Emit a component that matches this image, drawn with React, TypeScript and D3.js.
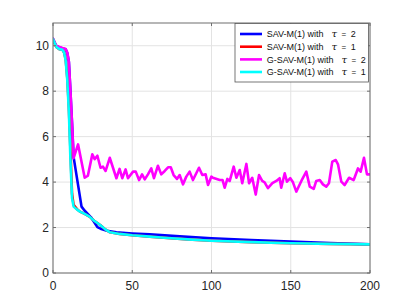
import React from "react";
import * as d3 from "d3";

type P = [number, number];

const xTicks = [0, 50, 100, 150, 200];
const yTicks = [0, 2, 4, 6, 8, 10];

const seriesNames = ["SAV-M(1) with", "SAV-M(1) with", "G-SAV-M(1) with", "G-SAV-M(1) with"];
const seriesTau = ["2", "1", "2", "1"];
const seriesColors = ["#0000ff", "#ff0000", "#ff00ff", "#00ffff"];

const savTau2: P[] = [
  [0, 10.3], [2, 10.0], [4, 9.93], [6, 9.88], [8, 9.84], [9, 9.68], [10, 9.3], [11, 8.0], [12, 6.6],
  [13, 5.1], [18, 2.92], [20, 2.74], [24, 2.45], [28, 2.02], [30, 1.95], [34, 1.86], [40, 1.79],
  [50, 1.74], [61, 1.7], [80, 1.61], [100, 1.53], [125, 1.45], [150, 1.38], [175, 1.32], [200, 1.26],
];

const savTau1: P[] = [
  [0, 10.28], [2, 9.95], [4, 9.85], [6, 9.82], [7, 9.7], [8, 9.4], [9, 8.6], [10, 7.3], [11, 5.4],
  [12, 3.5], [13, 3.0], [15, 2.82], [17, 2.7], [20, 2.6], [23, 2.48], [26, 2.3], [30, 2.1],
  [33, 1.92], [36, 1.79], [42, 1.72], [50, 1.66], [61, 1.6], [70, 1.55], [85, 1.48], [100, 1.42],
  [125, 1.36], [150, 1.31], [175, 1.28], [200, 1.26],
];

const gsavTau2: P[] = [
  [0, 10.3], [2, 10.0], [4, 9.95], [6, 9.9], [8, 9.86], [9, 9.7], [10, 9.3], [11, 8.0], [12, 6.6],
  [13, 5.05], [15.8, 5.66], [20, 4.19], [22, 4.28], [24.8, 5.22], [26.3, 5.01], [28, 5.16],
  [30, 4.63], [31.5, 4.68], [33.2, 4.49], [35.8, 5.07], [40, 4.17], [42, 4.58], [43.7, 4.17],
  [45.8, 4.56], [47.3, 4.17], [50.5, 4.46], [52.2, 4.46], [54.3, 4.09], [56.2, 4.34], [57.9, 4.12],
  [59.9, 4.34], [62, 4.6], [63.7, 4.17], [66.2, 4.72], [68.3, 4.34], [70.5, 4.49], [72.6, 4.65],
  [74.3, 4.65], [76.1, 4.31], [78.2, 4.14], [79.9, 4.31], [82, 3.9], [84.1, 4.24], [86.2, 4.46],
  [88.3, 4.09], [92.1, 4.63], [94.2, 4.31], [96.3, 4.34], [97.8, 3.87], [99.9, 4.24], [100.9, 4.19],
  [105.2, 4.09], [107, 4.09], [108.3, 3.75], [110, 4.14], [111.5, 4.05], [114, 4.68], [115.7, 4.19],
  [117.8, 4.53], [119.4, 3.95], [122, 4.8], [123.7, 3.95], [125.7, 4.19], [127.9, 3.45], [130, 4.31],
  [132, 4.05], [133.5, 3.99], [135.6, 3.73], [138.4, 3.95], [140.9, 4.05], [143, 4.17], [144, 3.75],
  [146.2, 4.39], [147.6, 4.02], [149.7, 4.17], [151.4, 3.99], [153.5, 3.58], [156.7, 4.05],
  [159.8, 4.46], [162, 3.8], [164.5, 3.7], [166.1, 4.05], [168.3, 4.09], [170.3, 3.9], [172.4, 3.8],
  [174.1, 3.95], [176.2, 4.9], [178.4, 4.97], [179.8, 4.78], [181.9, 4.02], [184, 3.87], [186.8, 4.19],
  [189.7, 4.09], [192.4, 4.6], [194.1, 4.46], [196.2, 5.07], [198.1, 4.34], [200, 4.34],
];

const gsavTau1: P[] = [
  [0, 10.28], [2, 9.95], [4, 9.85], [6, 9.82], [7, 9.7], [8, 9.35], [9, 8.5], [10, 7.1], [11, 5.0],
  [12, 3.3], [13, 2.92], [15, 2.8], [17, 2.7], [20, 2.6], [23, 2.48], [26, 2.3], [30, 2.1],
  [33, 1.92], [36, 1.79], [42, 1.72], [50, 1.66], [61, 1.6], [70, 1.55], [85, 1.48], [100, 1.42],
  [125, 1.36], [150, 1.31], [175, 1.28], [200, 1.26],
];

const allSeries = [savTau2, savTau1, gsavTau2, gsavTau1];

const W = 409;
const H = 307;
const left = 53;
const right = 370;
const top = 23;
const bottom = 273;
const FONT = "'Liberation Sans', Arial, Helvetica, sans-serif";

export default function App() {
  const x = d3.scaleLinear().domain([0, 200]).range([left, right]);
  const y = d3.scaleLinear().domain([0, 11]).range([bottom, top]);
  const line = d3
    .line<P>()
    .x((d) => x(d[0]))
    .y((d) => y(d[1]));

  const axisColor = "#6e6e6e";
  const gridColor = "#e3e3e3";
  const tickLen = 3;

  const lgX0 = 235;
  const lgX1 = 368.5;
  const lgY0 = 23.5;
  const lgY1 = 82;
  const rowY = [34, 46.7, 59.4, 72];

  return (
    <svg
      width={W}
      height={H}
      style={{ position: "absolute", left: 0, top: 0, background: "#fff" }}
      fontFamily={FONT}
    >
      <rect x={0} y={0} width={W} height={H} fill="#fff" />
      <defs>
        <clipPath id="plotclip">
          <rect x={left} y={top} width={right - left} height={bottom - top} />
        </clipPath>
      </defs>
      {xTicks.map((t) => (
        <line key={"gx" + t} x1={x(t)} x2={x(t)} y1={top} y2={bottom} stroke={gridColor} strokeWidth={1} />
      ))}
      {yTicks.map((t) => (
        <line key={"gy" + t} x1={left} x2={right} y1={y(t)} y2={y(t)} stroke={gridColor} strokeWidth={1} />
      ))}
      <g clipPath="url(#plotclip)">
        {allSeries.map((s, i) => (
          <path
            key={"s" + i}
            d={line(s) || ""}
            fill="none"
            stroke={seriesColors[i]}
            strokeWidth={2.6}
            strokeLinejoin="round"
            strokeLinecap="round"
          />
        ))}
      </g>
      <rect x={left} y={top} width={right - left} height={bottom - top} fill="none" stroke={axisColor} strokeWidth={1} />
      {xTicks.map((t) => (
        <g key={"tx" + t}>
          <line x1={x(t)} x2={x(t)} y1={bottom} y2={bottom - tickLen} stroke={axisColor} />
          <line x1={x(t)} x2={x(t)} y1={top} y2={top + tickLen} stroke={axisColor} />
          <text x={x(t)} y={290} textAnchor="middle" fontSize={12} fill="#262626">
            {t}
          </text>
        </g>
      ))}
      {yTicks.map((t) => (
        <g key={"ty" + t}>
          <line x1={left} x2={left + tickLen} y1={y(t)} y2={y(t)} stroke={axisColor} />
          <line x1={right} x2={right - tickLen} y1={y(t)} y2={y(t)} stroke={axisColor} />
          <text x={49} y={y(t) + 4.3} textAnchor="end" fontSize={12} fill="#262626">
            {t}
          </text>
        </g>
      ))}
      <rect x={lgX0} y={lgY0} width={lgX1 - lgX0} height={lgY1 - lgY0} fill="#fff" stroke="#555" strokeWidth={0.8} />
      {seriesNames.map((name, i) => (
        <g key={"lg" + i}>
          <line x1={240} x2={262} y1={rowY[i]} y2={rowY[i]} stroke={seriesColors[i]} strokeWidth={2.6} />
          <text x={266.7} y={rowY[i] + 3.2} fontSize={9} fill="#111">
            {name}
            <tspan dx={8} fontSize={10} fontStyle="italic" fontFamily="'DejaVu Serif', 'Liberation Serif', serif">
              τ
            </tspan>
            <tspan dx={4.5} fontSize={8}>=</tspan>
            <tspan dx={4.5}>{seriesTau[i]}</tspan>
          </text>
        </g>
      ))}
    </svg>
  );
}
